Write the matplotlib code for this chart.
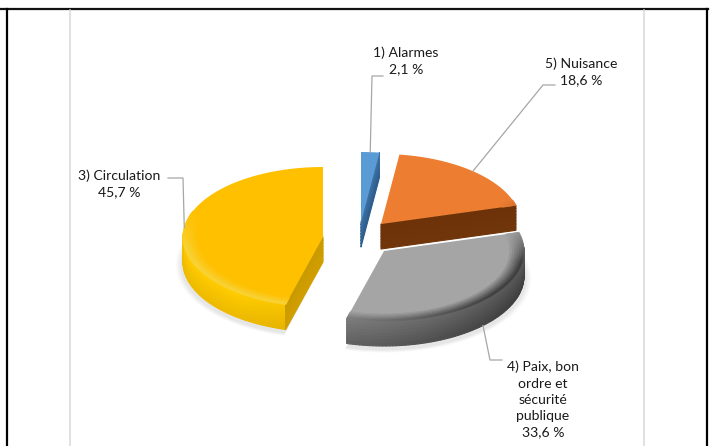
import numpy as np
import matplotlib
matplotlib.use('Agg')
import matplotlib.pyplot as plt
from matplotlib.collections import PolyCollection
from matplotlib.colors import to_rgb

# drawn clockwise starting from the top
categories = ['1) Alarmes', '5) Nuisance', '4) Paix, bon\nordre et\nsécurité\npublique', '3) Circulation']
values = [2.1, 18.6, 33.6, 45.7]
value_labels = ['2,1 %', '18,6 %', '33,6 %', '45,7 %']

colors = ['#5b9bd5', '#ed7d31', '#a5a5a5', '#ffc000']
cut_colors = ['#3f74a6', '#6e3208', '#5a5a5a', '#c99a00']
wall_light = ['#4a86c0', '#c4600f', '#858585', '#ffcb00']
wall_dark = ['#2f5f8f', '#70350a', '#404040', '#d19e00']

# pixel geometry of the exploded pie
RX, RY, DEPTH = 140, 70, 25
centers = {0: (361, 222), 1: (381, 224), 2: (384, 251), 3: (323, 237)}

plt.rcParams['font.family'] = ['Lato', 'DejaVu Sans']
fig = plt.figure(figsize=(7.14, 4.46), dpi=100)
ax = fig.add_axes([0, 0, 1, 1])
ax.set_xlim(0, 714)
ax.set_ylim(446, 0)
ax.axis('off')

# page frame and chart area borders
ax.plot([0, 708], [9, 9], color='#111111', lw=1.6)
ax.plot([6.5, 6.5], [9, 446], color='#000000', lw=1.6)
ax.plot([707, 707], [9, 446], color='#000000', lw=1.6)
ax.plot([69.5, 69.5], [10, 446], color='#d9d9d9', lw=1.1)
ax.plot([644, 644], [10, 446], color='#d9d9d9', lw=1.1)


def mix(a, b, t):
    a, b = np.array(to_rgb(a)), np.array(to_rgb(b))
    return tuple(a + (b - a) * t)


def pt(c, ang, frac=1.0, dz=0):
    a = np.radians(ang)
    return (c[0] + RX * frac * np.cos(a), c[1] - RY * frac * np.sin(a) + dz)


# slice angles come from the values
bounds = 90 - np.cumsum([0] + values) * 3.6
mids = (bounds[:-1] + bounds[1:]) / 2


def draw_shadow(i):
    c = centers[i]
    th = np.linspace(bounds[i], bounds[i + 1], 60)
    for grow, alpha in [(1.05, 0.05), (1.035, 0.07), (1.02, 0.09)]:
        outer = [pt((c[0], c[1] + DEPTH + 3), a, grow) for a in th]
        ax.fill(*zip(*([(c[0], c[1] + DEPTH)] + outer)), color='#888888', alpha=alpha, lw=0, zorder=2 + i)


def draw_slice(i, z):
    c = centers[i]
    start, end = bounds[i], bounds[i + 1]
    th = np.linspace(start, end, 90)

    # outer wall, shaded by height and by angle
    polys, cols = [], []
    for a0, a1 in zip(th[:-1], th[1:]):
        if np.sin(np.radians((a0 + a1) / 2)) > 0.05:
            continue
        for k in range(8):
            d0, d1 = DEPTH * k / 8, DEPTH * (k + 1) / 8
            polys.append([pt(c, a0, 1, d0), pt(c, a1, 1, d0), pt(c, a1, 1, d1), pt(c, a0, 1, d1)])
            # right side of the wall is darker
            side = np.clip((np.cos(np.radians(a0)) + 0.6) / 1.5, 0, 1)
            cols.append(mix(wall_light[i], wall_dark[i], 0.35 * k / 7 + 0.65 * side))
    if polys:
        ax.add_collection(PolyCollection(polys, facecolors=cols, edgecolors=cols, linewidths=0.8, zorder=z))

    # cut faces turned towards the viewer
    cut_angle = {0: end, 1: end, 3: start}.get(i)
    if cut_angle is not None:
        quads, quad_cols = [], []
        for k in range(8):
            d0, d1 = DEPTH * k / 8, DEPTH * (k + 1) / 8
            quads.append([pt(c, cut_angle, 0, d0), pt(c, cut_angle, 1, d0),
                          pt(c, cut_angle, 1, d1), pt(c, cut_angle, 0, d1)])
            quad_cols.append(mix(cut_colors[i], wall_dark[i], k / 7))
        ax.add_collection(PolyCollection(quads, facecolors=quad_cols, edgecolors=quad_cols,
                                         linewidths=0.8, zorder=z + 0.1))

    # top face, with a bevel band towards the rim
    ax.fill(*zip(*([c] + [pt(c, a) for a in th])), color=colors[i], lw=0, zorder=z + 0.2)
    rim = []
    rim_cols = []
    for a0, a1 in zip(th[:-1], th[1:]):
        s = np.sin(np.radians(a0))
        if s > 0.35:
            continue
        for k in range(6):
            f0, f1 = 0.9 + 0.1 * k / 6, 0.9 + 0.1 * (k + 1) / 6
            rim.append([pt(c, a0, f0), pt(c, a1, f0), pt(c, a1, f1), pt(c, a0, f1)])
            w = (k + 1) / 6 * np.clip((0.35 - s) / 0.5, 0, 1)
            side = np.clip((np.cos(np.radians(a0)) + 0.4) / 1.2, 0, 1)
            target = mix('#ffdc40', wall_dark[i], 0.15) if i == 3 else mix(wall_light[i], wall_dark[i], side)
            rim_cols.append(mix(colors[i], target, w))
    if rim:
        ax.add_collection(PolyCollection(rim, facecolors=rim_cols, edgecolors=rim_cols,
                                         linewidths=0.6, zorder=z + 0.3))


for i in (3, 2):
    draw_shadow(i)
for z, i in zip((10, 11, 12, 13), (3, 0, 1, 2)):
    draw_slice(i, z)

# leader lines start on the rim at the middle of each slice
leader_color = '#a6a6a6'
legs = {0: [(372, 76), (383, 76)], 1: [(543, 85), (555, 85)],
        2: [(490, 360), (502, 360)], 3: [(183, 178), (168, 178)]}
for i, pts in legs.items():
    start = pt(centers[i], mids[i], 1, DEPTH if i == 2 else 0)
    xs, ys = zip(*([start] + pts))
    ax.plot(xs, ys, color=leader_color, lw=0.9, zorder=20)

fs = 10.1
txt = '#1a1a1a'
ls = 1.42
ax.text(406, 61, categories[0] + '\n' + value_labels[0], ha='center', va='center', fontsize=fs,
        color=txt, linespacing=ls)
ax.text(581, 71.5, categories[1] + '\n' + value_labels[1], ha='center', va='center', fontsize=fs,
        color=txt, linespacing=ls)
ax.text(543, 399.5, categories[2] + '\n' + value_labels[2], ha='center', va='center', fontsize=fs,
        color=txt, linespacing=ls)
ax.text(119, 183.5, categories[3] + '\n' + value_labels[3], ha='center', va='center', fontsize=fs,
        color=txt, linespacing=ls)

fig.savefig('out.png', dpi=100, facecolor='white')
